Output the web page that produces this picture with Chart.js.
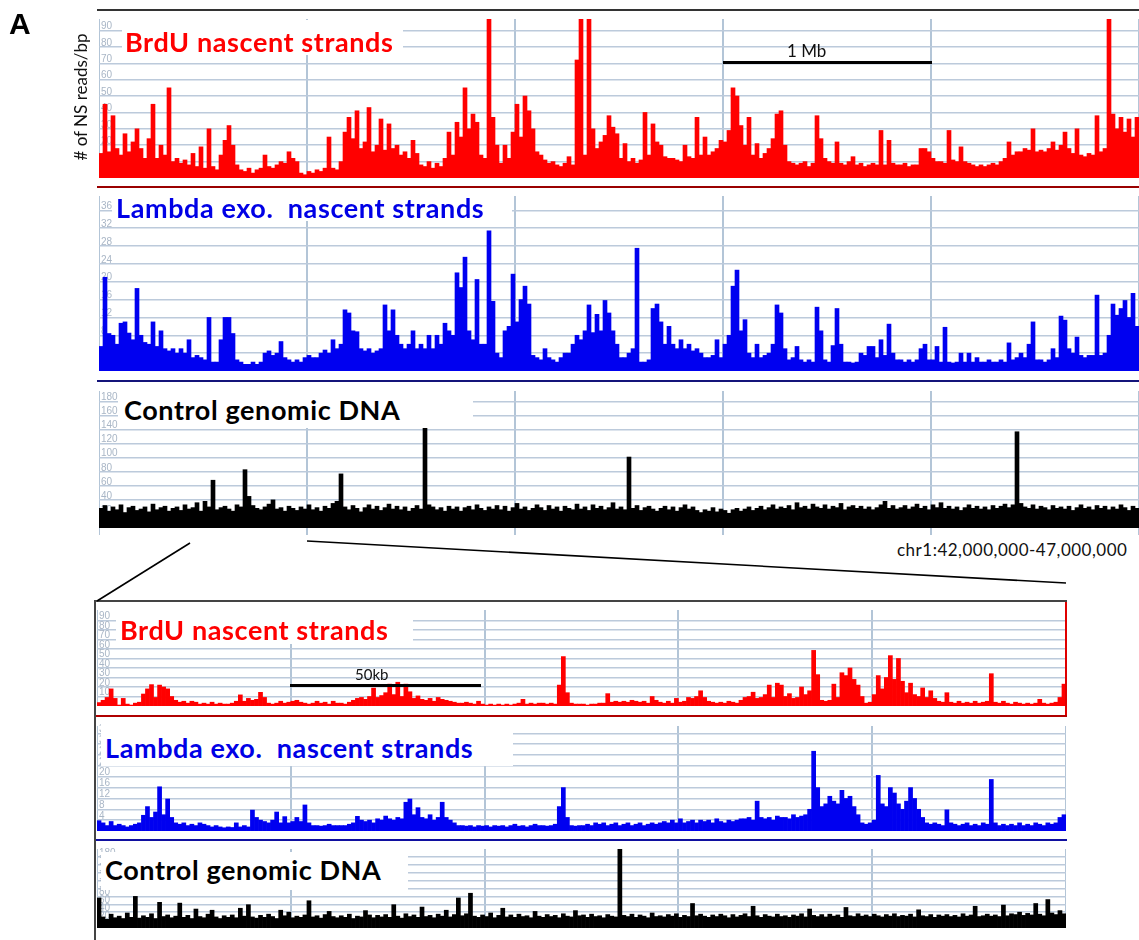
<!DOCTYPE html>
<html>
<head>
<meta charset="utf-8">
<script src="https://cdn.jsdelivr.net/npm/chart.js@4.4.1/dist/chart.umd.min.js"></script>
<style>
  body { margin: 0; background: #fff; }
  #fig { position: relative; width: 1139px; height: 940px; overflow: hidden; font-family: Lato, "Open Sans", sans-serif; }
  #fig canvas { position: absolute; }
  .box { position: absolute; background: #fff; }
  .lbl { position: absolute; font-weight: bold; white-space: pre; line-height: 1; font-size: 27px; letter-spacing: 0.6px; }
  .ln { position: absolute; }
  .txt { position: absolute; white-space: pre; line-height: 1; color: #111; }
</style>
</head>
<body>
<div id="fig">
  <canvas id="topBrdUChart"></canvas>
  <canvas id="topLambdaChart"></canvas>
  <canvas id="topControlChart"></canvas>
  <canvas id="zoomBrdUChart"></canvas>
  <canvas id="zoomLambdaChart"></canvas>
  <canvas id="zoomControlChart"></canvas>

  <!-- track frames -->
  <div class="ln" style="left:97px;top:9px;width:1042px;height:2px;background:#333;"></div>
  <div class="ln" style="left:97px;top:186px;width:1042px;height:2px;background:#9a0000;"></div>
  <div class="ln" style="left:97px;top:380px;width:1042px;height:2px;background:#14147a;"></div>
  <div class="ln" style="left:94px;top:600px;width:973px;height:2px;background:#444;"></div>
  <div class="ln" style="left:94px;top:600px;width:2px;height:340px;background:#444;"></div>
  <div class="ln" style="left:96px;top:715px;width:971px;height:2px;background:#b00000;"></div>
  <div class="ln" style="left:96px;top:839px;width:971px;height:2px;background:#1010a0;"></div>
  <div class="ln" style="left:1065px;top:602px;width:2px;height:113px;background:#e00000;"></div>

  <!-- track name boxes -->
  <div class="box" style="left:122px;top:20px;width:281px;height:35px;"></div>
  <div class="lbl" style="left:125px;top:28px;color:#f00;">BrdU nascent strands</div>
  <div class="box" style="left:112px;top:189px;width:400px;height:32px;"></div>
  <div class="lbl" style="left:116px;top:194px;color:#0000e6;">Lambda exo.  nascent strands</div>
  <div class="box" style="left:118px;top:386px;width:355px;height:42px;"></div>
  <div class="lbl" style="left:124px;top:396px;color:#000;">Control genomic DNA</div>

  <div class="box" style="left:116px;top:609px;width:297px;height:35px;"></div>
  <div class="lbl" style="left:120px;top:616px;color:#f00;">BrdU nascent strands</div>
  <div class="box" style="left:101px;top:722px;width:412px;height:44px;"></div>
  <div class="lbl" style="left:105px;top:734px;color:#0000e6;">Lambda exo.  nascent strands</div>
  <div class="box" style="left:101px;top:852px;width:307px;height:38px;"></div>
  <div class="lbl" style="left:105px;top:856px;color:#000;">Control genomic DNA</div>

  <!-- scale bars -->
  <div class="ln" style="left:723px;top:61px;width:209px;height:3px;background:#000;"></div>
  <div class="txt" style="left:787px;top:42px;font-size:17px;">1 Mb</div>
  <div class="ln" style="left:290px;top:684px;width:191px;height:3px;background:#000;"></div>
  <div class="txt" style="left:355px;top:667px;font-size:15px;">50kb</div>

  <div class="txt" style="left:897px;top:541px;font-size:17px;letter-spacing:0.5px;">chr1:42,000,000-47,000,000</div>
  <div class="txt" style="left:9px;top:9px;font-size:30px;font-weight:bold;font-family:'Liberation Sans',Arial,sans-serif;color:#000;">A</div>
  <div class="txt" style="left:80px;top:97px;font-size:17px;transform:translate(-50%,-50%) rotate(-90deg);"># of NS reads/bp</div>

  <svg style="position:absolute;left:0;top:0;" width="1139" height="940">
    <line x1="190" y1="543" x2="97" y2="601" stroke="#000" stroke-width="1.6"/>
    <line x1="307" y1="541" x2="1066" y2="583" stroke="#000" stroke-width="1.6"/>
  </svg>
</div>

<script>
// chr1:42-47 Mb, one bin per ~19 kb
const topBrdU = [
  15,45,16,38,18,14,27,16,22,30,
  18,12,24,45,12,20,14,55,10,12,
  9,11,8,15,7,19,6,30,7,5,
  14,23,32,20,8,5,4,6,3,5,
  6,14,7,6,8,10,9,16,12,10,
  3,2,4,3,5,4,6,25,6,5,
  10,28,37,24,41,18,22,43,16,20,
  36,17,33,18,20,14,16,12,23,15,
  8,7,10,6,9,7,12,28,14,34,
  25,55,30,39,34,14,12,120,37,20,
  9,20,12,28,45,25,50,41,30,16,
  14,11,9,10,8,7,9,13,8,72,
  120,14,120,30,18,22,26,38,31,27,
  12,21,10,12,9,11,40,14,33,22,
  20,13,12,12,11,10,20,13,12,37,
  14,25,14,16,18,23,22,29,55,50,
  32,20,37,14,21,12,15,18,24,39,
  41,20,10,9,8,9,10,7,9,38,
  24,12,10,9,22,9,8,10,13,8,
  9,7,8,9,8,29,8,23,9,8,
  8,9,7,8,8,18,18,16,12,10,
  10,9,29,11,10,19,10,9,8,7,
  8,7,8,9,8,10,12,22,14,16,
  16,18,17,30,16,17,16,18,22,17,
  20,28,18,15,30,14,13,15,14,38,
  16,18,120,39,30,37,28,36,25,37
];
const topLambda = [
  5.5,21,8.4,8,6,10.7,11,8.5,7,18.5,
  8,6.4,6,11,5.5,9,5,4.5,5,4,
  5,4,7,3,3.5,3,2.5,12,2,2,
  7,12,12,8.4,2.5,2,1.5,1.5,2,1.5,
  2,4,4.5,3.5,4,6.6,3,2.5,2,2.5,
  2,3,3.5,3,3,4,4.7,4,7,5,
  6,13.7,13,9,8.8,5,4.5,5,4,4.5,
  5,14.8,9,13.7,8,6,5,6,9,5,
  6,5,8,5,8,6,10.7,9,8,22,
  18.7,25.5,9,7,20.5,6,6,31.4,15.6,4,
  3,9,10,21.7,11,16,19,15,3.5,3,
  2.5,5,3,2.5,2,3,4,4,6,8,
  7,9,14.8,8.6,12.7,9,15.8,13,9,6,
  3,3,4,5,27.5,2,2,2.5,14,15,
  11,6,10,6,5,7,5,6,4.5,5,
  4,3,3,3.5,7,3,6,8,19,22.6,
  9,11.5,4,3,6,3,3.5,4,6,14.8,
  13,5,2.5,3,5.5,2.5,2,2.5,2,14.3,
  9,2.5,2,5.7,14,6,2,2,1.8,2,
  4,3.5,5.5,5.5,3,7,3.5,10.5,4,2.5,
  2.5,2,2.5,2,2.5,5,6,2.5,2.5,5.5,
  2,9.8,2,1.8,2,4,2,4,2,3,
  2,2,2.5,2,2,2.5,2,6.3,2.5,3,
  4,3,6,11,2.5,2.5,2,2.5,5,3,
  12.3,11.4,5,4,7.6,3.5,3,3.5,3.5,17,
  3.5,4,8,15,12.5,14,15.8,12,17.4,10
];
const topControl = [
  28,32,24,30,26,33,22,29,31,25,
  27,30,23,34,26,29,31,24,28,30,
  25,33,27,29,36,24,38,30,68,26,
  29,31,27,24,33,30,83,45,32,28,
  26,30,34,40,27,29,24,31,28,25,
  30,27,33,26,29,24,31,28,35,38,
  77,30,26,32,28,23,29,33,27,31,
  25,29,34,27,31,26,30,24,28,32,
  27,200,33,30,26,29,24,31,27,30,
  24,29,31,26,33,28,25,30,27,32,
  26,31,24,29,35,27,30,25,28,33,
  29,25,32,27,30,24,31,28,26,34,
  27,30,25,33,28,31,26,29,36,27,
  30,26,101,28,32,25,29,31,27,24,
  28,31,26,30,24,29,33,27,30,25,
  22,26,24,29,23,27,25,21,26,28,
  24,27,30,25,28,31,26,29,33,27,
  30,28,32,26,36,29,31,27,34,30,
  28,33,27,31,29,35,26,30,32,28,
  31,27,30,26,29,33,38,28,32,27,
  29,32,27,30,34,28,31,26,33,29,
  36,28,31,27,30,25,29,33,28,31,
  27,30,26,32,28,31,34,29,33,137,
  35,30,28,33,27,31,29,26,32,28,
  30,27,31,25,29,33,28,30,26,32,
  28,31,26,30,27,33,29,25,31,28
];

// zoomed window, 250 kb, one bin per ~1 kb
const zoomBrdU = [
  3.6,6,9,18,8,1,8,2,1,3,
  4,12.6,18,22.5,9,22,20,18,10,6,
  4,5,3,5,4,2,3,2,4,2,
  3,2,2,3,5,11.7,5,8,6,7,
  14.4,9,3,2,3,5,3,4,5,6,
  4,3,2,3,5,3,4,2,5,3,
  3,2,4,6,8,9,7,10,18.8,9,
  11,14,23,12,25,10,23,15,8,10.6,
  7,6,8,5,9,7,6,5,4,3,
  3,4,3,2,5,2,1,2,1,2,
  1,2,1,2,3,7,2,3,2,3,
  3,2,3,2,22,52,14,3,2,2,
  2,1,2,2,3,3,13,4,5,4,
  5,4,6,5,4,5,3,10,6,4,
  3,5,3,8,4,5,9,8,10,16,
  9,5,4,3,4,3,5,4,3,6,
  9,10,14.5,8,9,12,22,9,24,22,
  10,13,8,9,20,12,16,58.5,33,6,
  5,6,23,9,35,32,40,28,22,10,
  3,4,12,32,18,30,53,28,50,26,
  14,24,12,10,19,9,16,8,5,4,
  14,4,3,5,3,4,3,5,3,4,
  5,34,4,3,5,3,2,4,3,2,
  3,2,3,7,3,2,3,4,9,23
];
const zoomLambda = [
  3.8,3,2,3.5,2,2.5,2,1.5,2,2.5,
  3,5.8,9,5,7,16.3,6,11.8,5,3,
  2.5,3,2,2.5,2,3,2.5,2,1.5,2,
  1.5,1.2,1.5,1.3,3,1.5,2,1.5,7.7,5,
  4,3.5,3,4,7,3,5.3,3,3.5,5,
  3.5,9.6,3,2,2,1.8,2,2.5,2,2,
  2,2,2.5,3,5.4,4,3.5,4,3,4.5,
  4,5.5,4.5,4,5,4.5,10.6,11.8,6,8.6,
  5,4.5,6,4,5,10.6,5,4,3,2,
  2,1.8,2,1.5,2,1.8,2,1.5,2,1.8,
  2,1.5,2,2.5,1.8,2,1.5,2,2.5,2,
  2,1.8,2,2.5,9,16,5,2,1.8,2,
  2,2.5,2,3,2.5,3,2,2.5,3,2,
  2.5,3,2,2.5,3,2,2.5,3,2.5,3,
  3.5,3,4,3,4.5,3,3.5,4,3,4,
  3.5,4,3,4.5,3.5,3,4,3.5,4,4.5,
  4.5,5,4,11,5,4.5,5,4,5.5,5,
  5,4.5,6,5,5.5,6,8,29.4,16,9,
  10,12.8,11,10,15,12,12.8,9,6,3,
  2.5,3,4,20.5,10,9,16,14,10,8,
  11,16,12,8,5,3,2.5,3,2.5,2,
  7.8,3,2.5,2,2.5,3,2,2.5,2,3,
  2.5,19,3,2,2.5,2,2.5,2,3,2,
  2.5,2,3,2.5,2,3,2.5,3,5,6
];
const zoomControl = [
  76,28,22,35,26,30,24,38,27,80,
  25,31,27,36,24,65,29,33,26,30,
  63,27,32,24,48,29,26,35,45,28,
  24,31,27,33,26,50,30,59,28,25,
  32,27,35,29,24,45,31,40,26,30,
  27,33,69,28,31,25,34,42,29,26,
  31,27,35,24,30,28,44,33,26,32,
  28,34,27,59,30,25,36,29,33,27,
  53,29,32,26,35,30,45,28,34,76,
  31,36,88,30,27,33,29,38,26,32,
  50,28,33,27,35,29,31,26,42,30,
  27,34,29,32,26,36,30,28,44,31,
  33,27,35,29,31,26,34,30,28,230,
  32,29,35,27,33,30,26,38,29,31,
  28,34,30,36,27,32,29,62,31,35,
  30,27,33,29,35,31,26,34,28,32,
  36,29,55,31,27,34,30,28,35,29,
  31,27,33,30,36,28,48,32,29,34,
  28,35,30,33,27,52,31,29,36,30,
  33,29,35,31,28,34,30,36,29,32,
  30,35,28,46,31,29,34,27,33,30,
  34,29,32,28,36,30,33,55,29,31,
  35,30,33,29,58,31,36,34,40,32,
  37,33,62,35,31,72,38,34,44,36
];

// y-axis tick labels
const brduTicks = [10, 20, 30, 40, 50, 60, 70, 80, 90];
const lambdaTicks = [4, 8, 12, 16, 20, 24, 28, 32, 36];
const controlTicks = [20, 40, 60, 80, 100, 120, 140, 160, 180];

const hGrid = '#bccadb';
const vGrid = '#b3c5d7';

function drawTrack(id, box, values, color, yMax, ticks, tickLen) {
  const cv = document.getElementById(id);
  cv.width = box.w;
  cv.height = box.h + (tickLen || 0);
  cv.style.left = box.x + 'px';
  cv.style.top = box.y + 'px';

  new Chart(cv, {
    type: 'bar',
    data: {
      labels: values.map((v, i) => i),
      datasets: [{
        data: values,
        backgroundColor: color,
        borderWidth: 0,
        barPercentage: 1,
        categoryPercentage: 1
      }]
    },
    options: {
      responsive: false,
      animation: false,
      events: [],
      layout: { padding: 0 },
      plugins: { legend: { display: false }, tooltip: { enabled: false } },
      scales: {
        x: { display: false },
        // 1 Mb (top) / 50 kb (zoom) vertical grid
        xg: {
          type: 'linear', position: 'bottom', min: 0, max: 5, offset: false,
          ticks: { display: false, stepSize: 1 },
          grid: { color: vGrid, lineWidth: 2, offset: false, drawTicks: !!tickLen, tickLength: tickLen || 0 },
          border: { display: false },
          afterFit: s => { s.height = tickLen || 0; }
        },
        y: {
          min: 0, max: yMax, position: 'left',
          grid: { color: hGrid, lineWidth: 1.5, drawTicks: false },
          border: { display: false },
          ticks: {
            mirror: true, padding: 2, labelOffset: -4, autoSkip: false,
            color: '#a9b6c6',
            font: { size: 10, family: "'Liberation Sans', Arial, sans-serif" }
          },
          afterBuildTicks: s => { s.ticks = ticks.map(v => ({ value: v })); },
          afterFit: s => { s.width = 0; }
        }
      }
    }
  });
}

drawTrack('topBrdUChart',   { x: 99, y: 11,  w: 1040, h: 175 }, topBrdU,   '#ff0000', 97,   brduTicks);
drawTrack('topLambdaChart', { x: 99, y: 188, w: 1040, h: 191 }, topLambda, '#0000f0', 39.2, lambdaTicks);
drawTrack('topControlChart',{ x: 99, y: 383, w: 1040, h: 146 }, topControl,'#000000', 195,  controlTicks, 7);

drawTrack('zoomBrdUChart',   { x: 97, y: 602, w: 969, h: 112 }, zoomBrdU,   '#ff0000', 101,  brduTicks);
drawTrack('zoomLambdaChart', { x: 97, y: 718, w: 969, h: 121 }, zoomLambda, '#0000f0', 38.7, lambdaTicks);
drawTrack('zoomControlChart',{ x: 97, y: 841, w: 969, h: 95 },  zoomControl,'#000000', 200,  controlTicks);
</script>
</body>
</html>
